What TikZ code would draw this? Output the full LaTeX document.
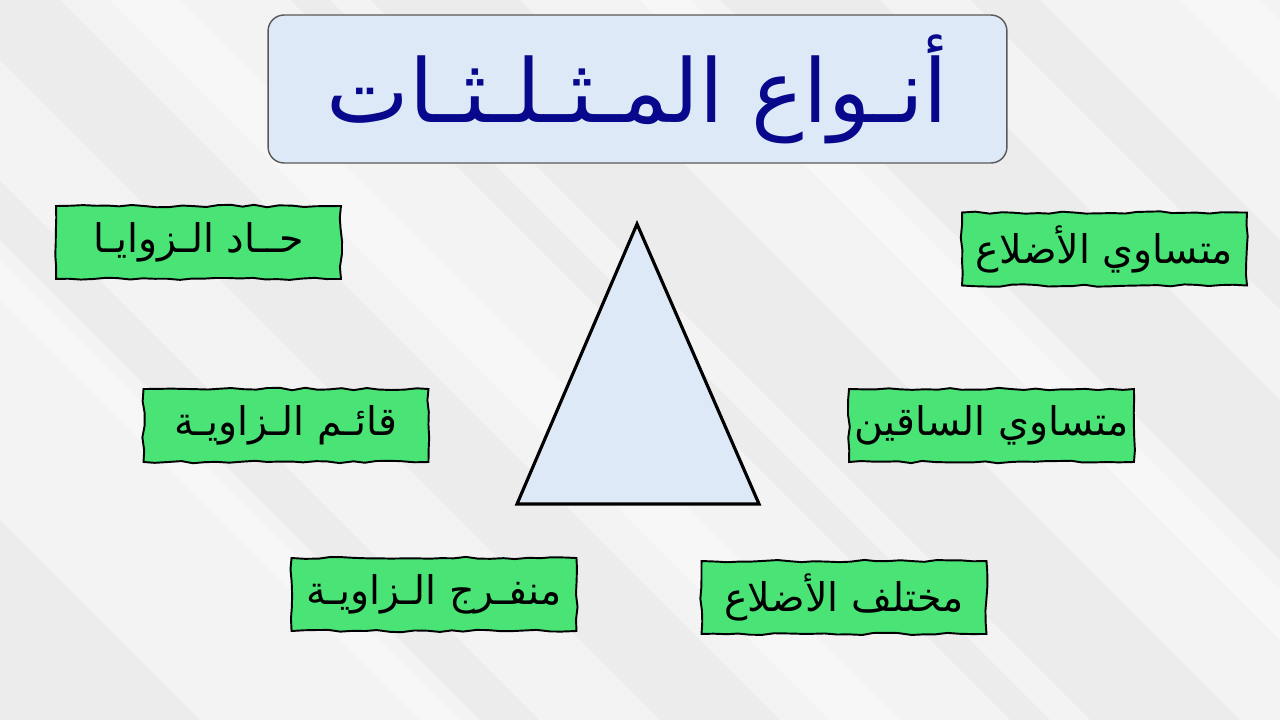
\documentclass[tikz,border=0pt]{standalone}
\usepackage{fontspec}
\newfontfamily\arabicfont[Script=Arabic]{DejaVu Sans}
\TeXXeTstate=1
\usetikzlibrary{decorations.pathmorphing}
\definecolor{bggray}{RGB}{236,236,236}
\definecolor{titlefill}{RGB}{221,233,246}
\definecolor{titleblue}{RGB}{8,8,140}
\definecolor{boxgreen}{RGB}{74,228,118}
\definecolor{shapefill}{RGB}{221,233,246}

\tikzset{
  typebox/.style={draw=black, fill=boxgreen, line width=1.1pt, inner sep=0pt,
    minimum width=5.7cm, minimum height=1.46cm,
    font=\arabicfont\fontsize{22.5}{27}\selectfont,
    decorate, decoration={random steps, segment length=7pt, amplitude=0.7pt}},
  titlebox/.style={draw=black!65, fill=titlefill, thick, rounded corners=0.32cm,
    minimum width=14.78cm, minimum height=2.96cm, inner sep=0pt,
    text=titleblue, font=\arabicfont\fontsize{50}{58}\selectfont},
  band/.style={fill=white, opacity=0.4}
}

\begin{document}
\begin{tikzpicture}[x=0.02cm, y=-0.02cm]
  \pgfmathsetseed{7}
  % Background with soft diagonal bands
  \begin{scope}
    \clip (0,0) rectangle (1280,720);
    \fill[bggray] (0,0) rectangle (1280,720);
    \foreach \s/\w in {-520/260, -180/120, 60/230, 330/40, 520/200, 880/90, 1040/240}
      \fill[band] (\s,0) -- (\s+\w,0) -- (\s+\w+720,720) -- (\s+720,720) -- cycle;
    \foreach \s/\w in {-300/60, 110/70, 640/50, 1180/80}
      \fill[band] (\s,0) -- (\s+\w,0) -- (\s+\w+720,720) -- (\s+720,720) -- cycle;
  \end{scope}
  \useasboundingbox (0,0) rectangle (1280,720);

  % Title
  \node[titlebox] (title) at (637.5,89) {\beginR أنـواع المـثـلـثـات\endR};

  % Triangle
  \coordinate (apex) at (637,224);
  \coordinate (baseL) at (517,504);
  \coordinate (baseR) at (759,504);
  \draw[fill=shapefill, line width=1.8pt, line join=miter] (apex) -- (baseR) -- (baseL) -- cycle;

  % Types of triangles
  \node[typebox] (acute) at (198.5,242.5) {\beginR حــاد الـزوايـا\endR};
  \node[typebox] (equilateral) at (1104.5,249) {\beginR متساوي الأضلاع\endR};
  \node[typebox] (right) at (286,425.5) {\beginR قائـم الـزاويـة\endR};
  \node[typebox] (isosceles) at (991.5,425.5) {\beginR متساوي الساقين\endR};
  \node[typebox] (obtuse) at (434,594.5) {\beginR منفـرج الـزاويـة\endR};
  \node[typebox] (scalene) at (844,597.5) {\beginR مختلف الأضلاع\endR};
\end{tikzpicture}
\end{document}
